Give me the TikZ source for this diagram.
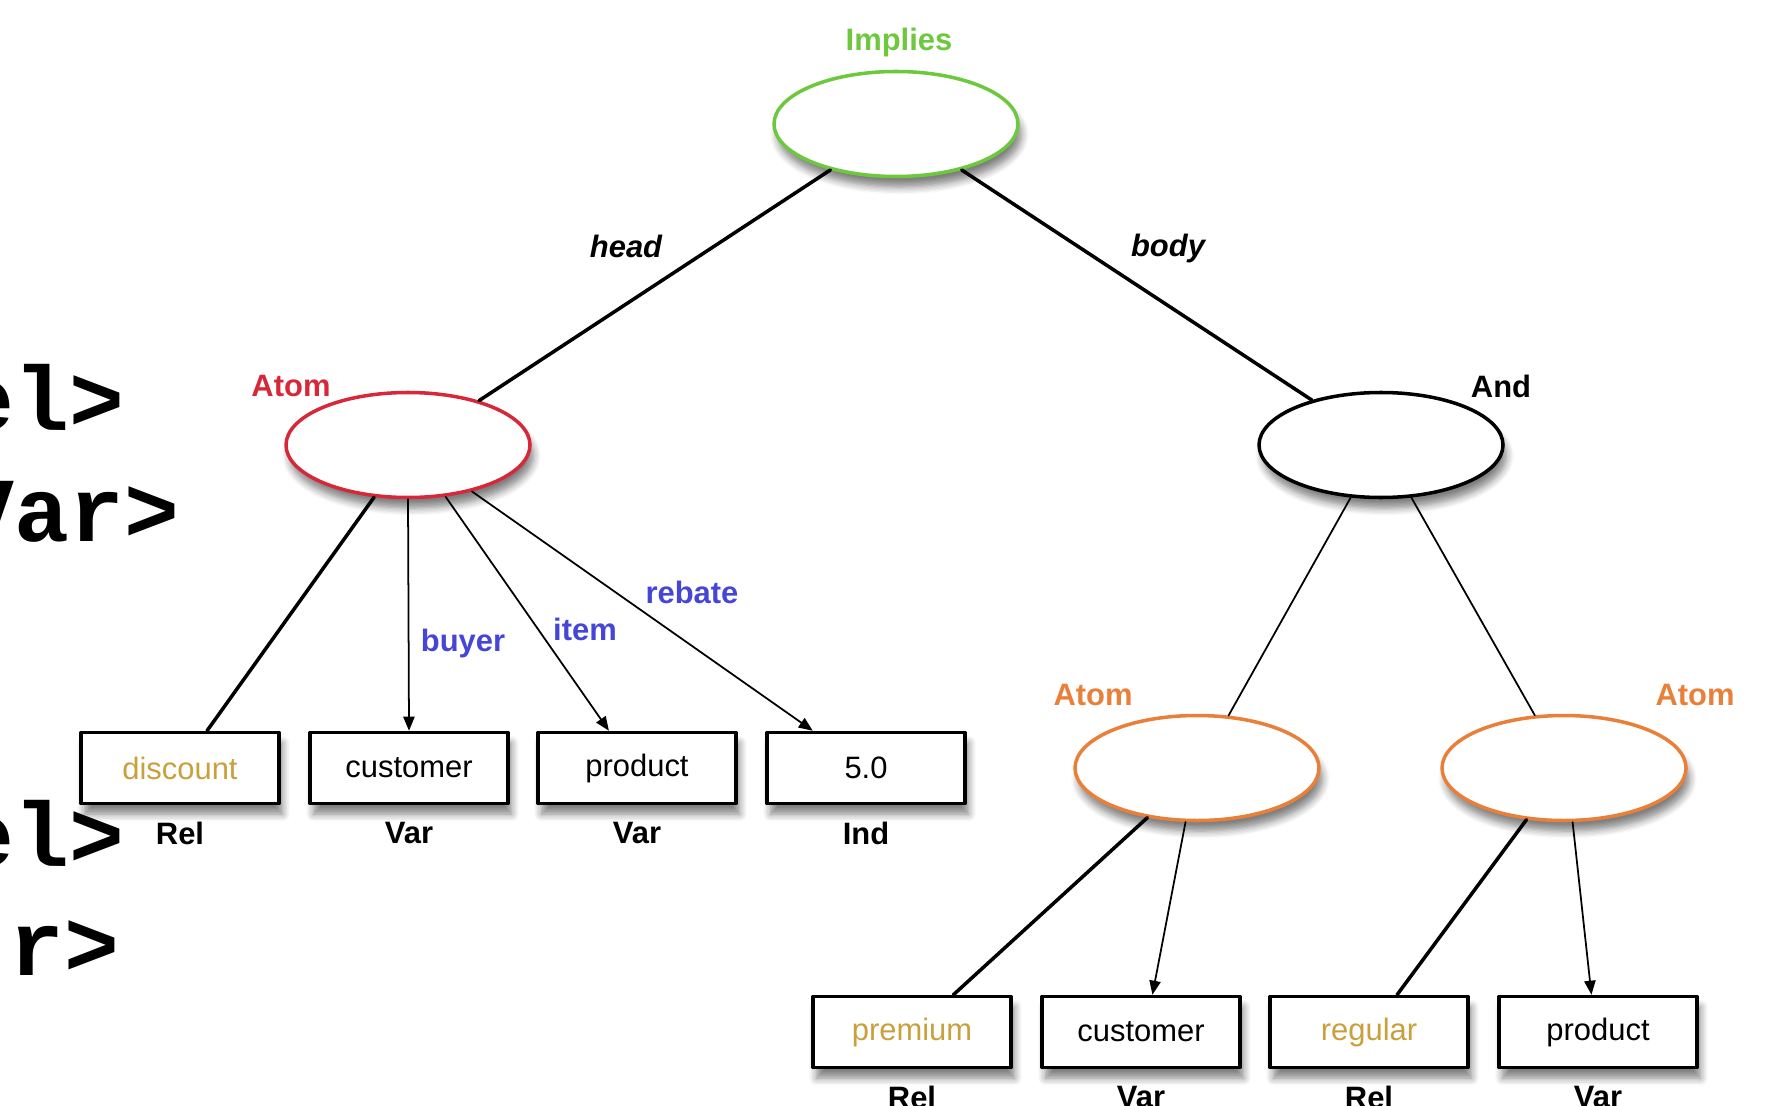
\documentclass[tikz,border=0pt]{standalone}
\usepackage{fontspec}
\setmainfont{Liberation Sans}
\newfontfamily\codefont{Liberation Mono}
\usetikzlibrary{arrows.meta,shapes.geometric,shadows.blur}
\definecolor{impliesgreen}{RGB}{110,200,62}
\definecolor{atomred}{RGB}{214,40,56}
\definecolor{atomorange}{RGB}{232,128,58}
\definecolor{relgold}{RGB}{200,160,60}
\definecolor{slotblue}{RGB}{70,70,214}
\begin{document}
\begin{tikzpicture}[line join=round, line cap=round, >={Triangle[length=4pt,width=3.2pt]},
    font=\fontsize{8.8}{10}\selectfont,
    soft/.style={blur shadow={shadow xshift=1pt, shadow yshift=-3pt, shadow blur steps=6, shadow opacity=50}},
    oval/.style={ellipse, draw, line width=1pt, fill=white, minimum width=2.44cm, minimum height=1.05cm, soft},
    term/.style={rectangle, draw, line width=1pt, fill=white, minimum width=1.98cm, minimum height=0.71cm, soft},
    tag/.style={font=\bfseries\fontsize{8.8}{10}\selectfont, inner sep=0pt},
    role/.style={tag, text=slotblue},
    strong/.style={line width=1pt},
    slot/.style={->, line width=0.5pt},
    code/.style={font=\codefont\bfseries\fontsize{26}{30}\selectfont, anchor=base east, inner sep=0pt}]
    \useasboundingbox (0,0) rectangle (17.68,11.05);
    % code lines behind the tree
    \node[code] (c1) at (1.25,6.75) {el>};
    \node[code] (c2) at (1.80,5.64) {Var>};
    \node[code] (c3) at (1.25,2.39) {el>};
    \node[code] (c4) at (1.20,1.30) {r>};
    % ovals
    \node[oval, draw=impliesgreen] (implies) at (8.96,9.81) {};
    \node[oval, draw=atomred] (atomA) at (4.08,6.60) {};
    \node[oval] (andN) at (13.81,6.60) {};
    \node[oval, draw=atomorange] (atomB) at (11.97,3.37) {};
    \node[oval, draw=atomorange] (atomC) at (15.64,3.37) {};
    \node[tag, text=impliesgreen] (impliesT) at (8.99,10.62) {Implies};
    \node[tag, text=atomred] (atomAT) at (2.91,7.19) {Atom};
    \node[tag] (andT) at (15.01,7.19) {And};
    \node[tag, text=atomorange] (atomBT) at (10.93,4.10) {Atom};
    \node[tag, text=atomorange] (atomCT) at (16.95,4.10) {Atom};
    % terms
    \node[term, text=relgold] (disc) at (1.80,3.37) {discount};
    \node[term] (cust) at (4.09,3.37) {customer};
    \node[term] (prod) at (6.37,3.37) {product};
    \node[term] (val) at (8.66,3.37) {5.0};
    \node[term, text=relgold] (prem) at (9.12,0.73) {premium};
    \node[term] (cust2) at (11.41,0.73) {customer};
    \node[term, text=relgold] (reg) at (13.69,0.73) {regular};
    \node[term] (prod2) at (15.98,0.73) {product};
    \foreach \n/\t in {disc/Rel, cust/Var, prod/Var, val/Ind, prem/Rel, cust2/Var, reg/Rel, prod2/Var}
      \path (\n.south) ++(0,-0.28) node[tag] (\n-type) {\t};
    % edges
    \draw[strong] (implies.215) -- (atomA.32);
    \draw[strong] (implies.325) -- (andN.147);
    \node[tag, font=\bfseries\itshape\fontsize{8.8}{10}\selectfont] (headT) at (6.26,8.59) {head};
    \node[tag, font=\bfseries\itshape\fontsize{8.8}{10}\selectfont] (bodyT) at (11.68,8.56) {body};
    \draw[strong] (atomA.237) -- (disc.54);
    \draw[slot] (atomA.270) -- (cust.north);
    \draw[slot] (atomA.306) -- (prod.127);
    \draw[slot] (atomA.324.5) -- (val.145.7);
    \node[role] (buyerT) at (4.63,4.62) {buyer};
    \node[role] (itemT) at (5.85,4.76) {item};
    \node[role] (rebateT) at (6.92,5.13) {rebate};
    \draw[line width=0.5pt] (andN.240) -- (atomB.59);
    \draw[line width=0.5pt] (andN.300) -- (atomC.119);
    \draw[strong] (atomB.225) -- (prem.42);
    \draw[slot] (atomB.258) -- (cust2.73);
    \draw[strong] (atomC.234) -- (reg.53);
    \draw[slot] (atomC.279) -- (prod2.100);
\end{tikzpicture}
\end{document}
